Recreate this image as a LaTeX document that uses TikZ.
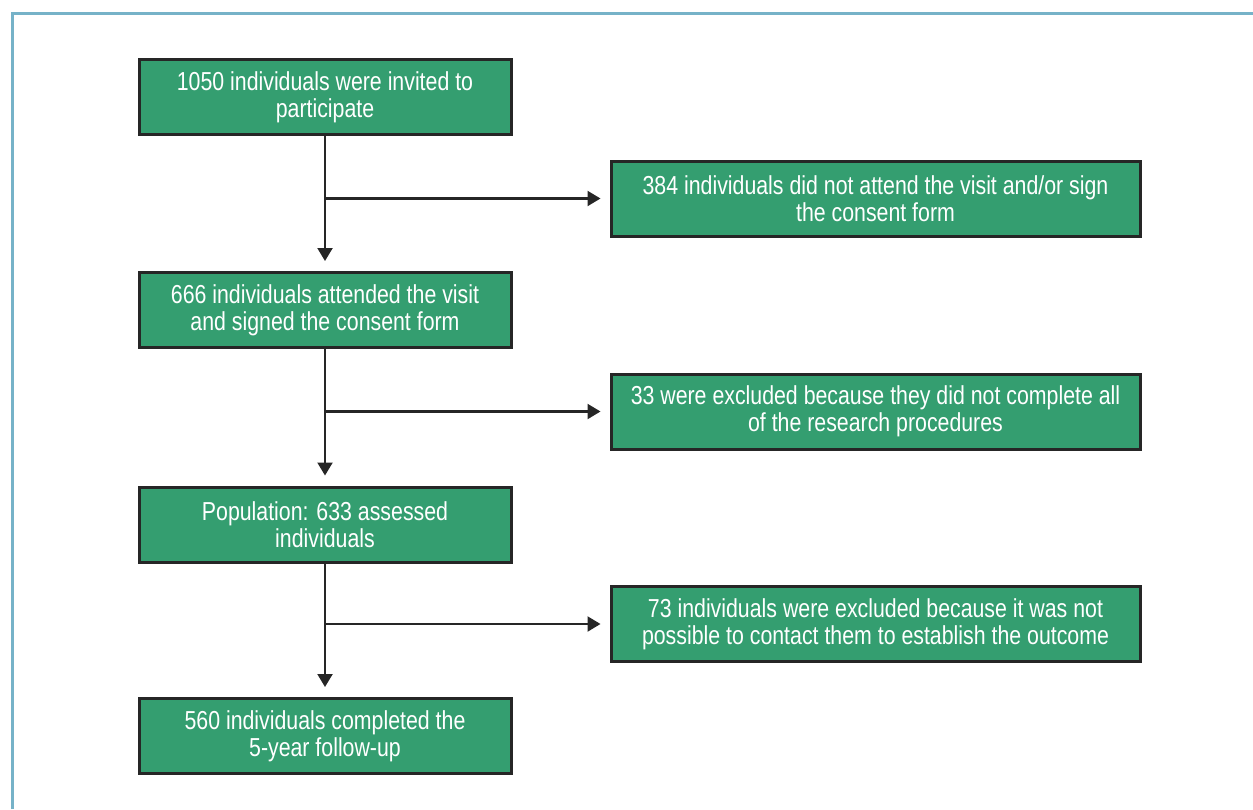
\documentclass[tikz,border=0pt]{standalone}
\usepackage{fontspec}
\setmainfont{Liberation Sans}[FakeStretch=0.82]
\usetikzlibrary{arrows.meta}
\definecolor{boxgreen}{RGB}{52,158,112}
\definecolor{framecol}{RGB}{118,178,200}
\tikzset{flowbox/.style={draw=black!85, line width=1.5pt, fill=boxgreen, text=white, align=center, inner sep=0pt, minimum height=37.5pt, font=\fontsize{13}{13.6}\selectfont},
mainbox/.style={flowbox, minimum width=186pt},
sidebox/.style={flowbox, minimum width=264.5pt},
%arrows between the boxes
flow/.style={draw=black!85, line width=1.1pt, -{Triangle[width=7.5pt,length=6.5pt]}, shorten >=#1},
flow/.default={5pt}}

\begin{document}
\begin{tikzpicture}[x=0.5pt,y=-0.5pt]
\useasboundingbox (0,0) rectangle (1253,809);
% frame
\draw[framecol,line width=1.5pt] (12,809) -- (12,13) -- (1253,13);

% main column
\node[mainbox] (invited) at (325,97) {1050 individuals were invited to\\participate};
\node[mainbox] (consent) at (325,310) {666 individuals attended the visit\\and signed the consent form};
\node[mainbox] (population) at (325,524.5) {Population: 633 assessed\\individuals};
\node[mainbox] (followup) at (325,736) {560 individuals completed the\\5-year follow-up};

% exclusions
\node[sidebox] (noattend) at (875.5,198.5) {384 individuals did not attend the visit and/or sign\\the consent form};
\node[sidebox] (incomplete) at (875.5,411.5) {33 were excluded because they did not complete all\\of the research procedures};
\node[sidebox] (nocontact) at (875.5,624) {73 individuals were excluded because it was not\\possible to contact them to establish the outcome};

% connectors
\draw[flow] (invited) -- (consent);
\draw[flow] (consent) -- (population);
\draw[flow] (population) -- (followup);

\coordinate (split1) at (invited.south |- noattend.west);
\coordinate (split2) at (consent.south |- incomplete.west);
\coordinate (split3) at (population.south |- nocontact.west);
\draw[flow=4.5pt] (split1) -- (noattend);
\draw[flow=4.5pt] (split2) -- (incomplete);
\draw[flow=4.5pt] (split3) -- (nocontact);
\end{tikzpicture}
\end{document}
